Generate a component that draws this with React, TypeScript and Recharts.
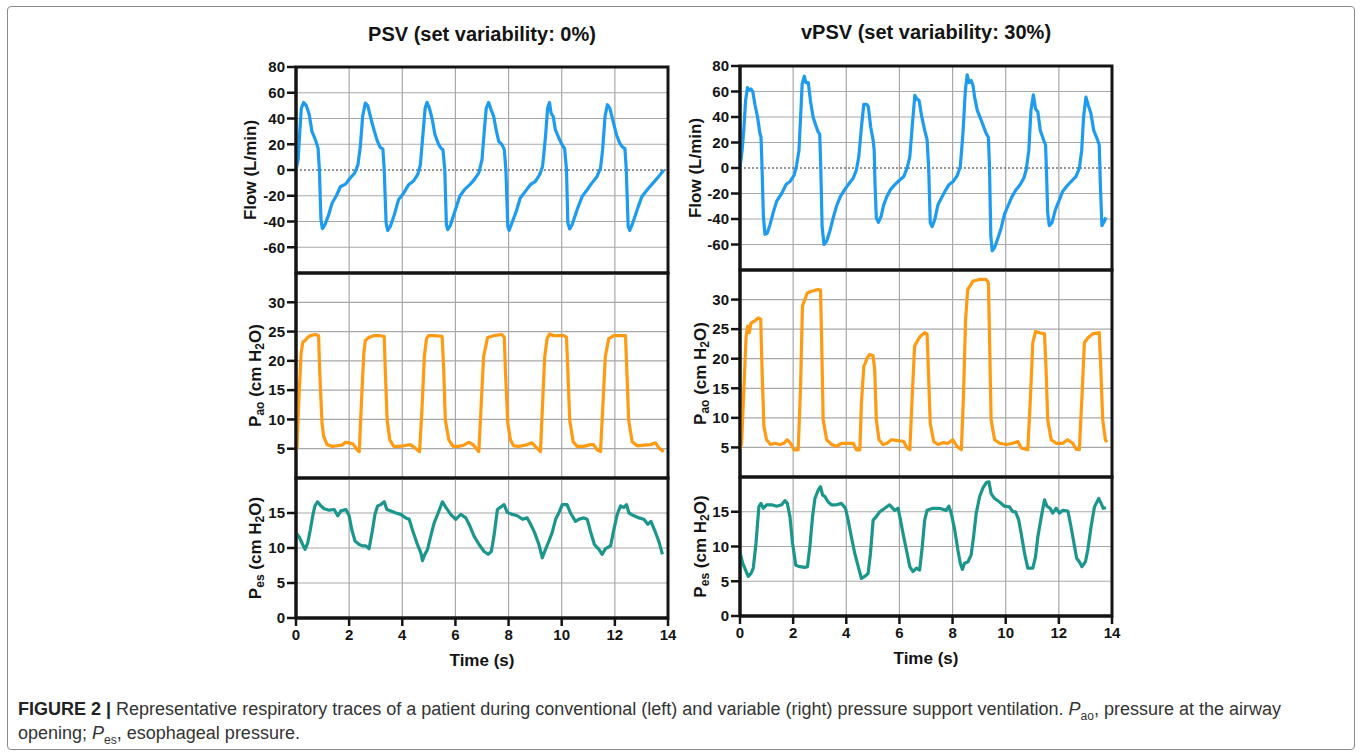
import type { ReactNode } from 'react';
import { LineChart, Line, XAxis, YAxis, CartesianGrid, ReferenceLine, ReferenceArea } from 'recharts';

type Pt = [number, number]; // [time (s), value]

const timeTicks = [0, 2, 4, 6, 8, 10, 12, 14];
const timeGrid = [2, 4, 6, 8, 10, 12];
const flowTicks = [-60, -40, -20, 0, 20, 40, 60, 80];
const flowGrid = [-60, -40, -20, 20, 40, 60];
const paoTicks = [5, 10, 15, 20, 25, 30];
const pesTicks = [0, 5, 10, 15];
const pesGrid = [5, 10, 15];

// PSV (set variability 0%)
const psvFlow: Pt[] = [
  [0, 0], [0.08, 8], [0.14, 29], [0.2, 48], [0.29, 52.5], [0.39, 50], [0.5, 43], [0.6, 30], [0.73, 23.5], [0.83, 17],
  [0.88, 0], [0.94, -38.6], [0.99, -45.5], [1.08, -43], [1.23, -34.7], [1.36, -25.6], [1.52, -20], [1.67, -13], [1.86, -11],
  [2.05, -6], [2.21, -2.3], [2.33, 4], [2.42, 18], [2.51, 42], [2.61, 52], [2.7, 50], [2.82, 40], [2.95, 30], [3.07, 22],
  [3.17, 17.6], [3.27, 16.3], [3.32, 0], [3.39, -41], [3.45, -47], [3.55, -43.8], [3.7, -34.7], [3.86, -23], [4.05, -18],
  [4.24, -11.4], [4.43, -8.3], [4.58, -3.6], [4.68, 4], [4.77, 26], [4.86, 48], [4.93, 52.5], [5.02, 48], [5.12, 40],
  [5.23, 27.4], [5.37, 19.7], [5.47, 16.6], [5.53, 15.8], [5.6, 0], [5.66, -42.5], [5.71, -46.3], [5.81, -43], [5.96, -33.4],
  [6.16, -20.5], [6.34, -15.3], [6.54, -11.4], [6.71, -7.5], [6.88, -2.3], [7.0, 8], [7.09, 31.3], [7.16, 48], [7.25, 52.5],
  [7.34, 47], [7.44, 41.7], [7.53, 31.3], [7.63, 22.3], [7.75, 19.7], [7.84, 15.8], [7.9, 0], [7.97, -43.8], [8.02, -47],
  [8.13, -41], [8.29, -32], [8.44, -21.7], [8.63, -16.6], [8.82, -11.4], [9.01, -8.8], [9.17, -3.6], [9.28, 2.8], [9.39, 26],
  [9.47, 48], [9.54, 52.5], [9.6, 44], [9.68, 41.7], [9.76, 31.3], [9.89, 24.9], [10.01, 19.7], [10.11, 16.6], [10.18, 0],
  [10.23, -41], [10.3, -45.8], [10.39, -42.5], [10.58, -30.8], [10.77, -20.5], [10.96, -15.3], [11.14, -10], [11.33, -5],
  [11.46, 1.5], [11.54, 15.8], [11.63, 41.7], [11.72, 50.7], [11.81, 48], [11.92, 39], [12.06, 27.4], [12.18, 21],
  [12.28, 17.9], [12.38, 16.6], [12.43, 0], [12.5, -43.8], [12.56, -47], [12.65, -42.5], [12.84, -30.8], [13.02, -20.5],
  [13.27, -14], [13.46, -9.6], [13.65, -5], [13.84, 0],
];

const psvPao: Pt[] = [
  [0, 4.5], [0.04, 5.4], [0.1, 12.7], [0.19, 21.2], [0.26, 23.2], [0.35, 23.5], [0.44, 24], [0.54, 24.3], [0.73, 24.5],
  [0.85, 24.3], [0.89, 18.4], [0.98, 9.4], [1.04, 7.1], [1.17, 5.7], [1.36, 5.4], [1.54, 5.5], [1.73, 5.6], [1.86, 6.1],
  [1.98, 6], [2.15, 5.8], [2.3, 4.8], [2.38, 4.5], [2.46, 12.7], [2.55, 21.2], [2.61, 23.5], [2.74, 24], [2.92, 24.3],
  [3.11, 24.3], [3.32, 24.2], [3.36, 18.4], [3.43, 9.9], [3.53, 6.5], [3.68, 5.4], [3.86, 5.4], [4.05, 5.5], [4.3, 5.7],
  [4.49, 5.1], [4.65, 4.5], [4.74, 11.6], [4.83, 20.7], [4.91, 23.8], [4.99, 24.3], [5.18, 24.3], [5.5, 24.2], [5.56, 18.4],
  [5.62, 9.9], [5.75, 6.5], [5.91, 5.4], [6.12, 5.4], [6.31, 5.6], [6.5, 6.1], [6.66, 5.7], [6.88, 4.5], [6.96, 11.6],
  [7.06, 20.7], [7.21, 24], [7.44, 24.3], [7.75, 24.5], [7.84, 24], [7.88, 18.4], [7.97, 9.4], [8.07, 6.5], [8.19, 5.5],
  [8.38, 5.4], [8.63, 5.6], [8.88, 6], [9.07, 5.1], [9.2, 4.5], [9.28, 12.7], [9.36, 20.7], [9.45, 23.8], [9.55, 24.6],
  [9.7, 24.3], [10.08, 24.3], [10.18, 24], [10.23, 18.4], [10.3, 9.9], [10.43, 6.2], [10.58, 5.4], [10.83, 5.4], [11.08, 5.7],
  [11.2, 5.7], [11.33, 4.8], [11.46, 4.5], [11.54, 11.6], [11.64, 20.7], [11.77, 23.8], [11.96, 24.3], [12.27, 24.3],
  [12.4, 24.3], [12.45, 18.4], [12.52, 9.9], [12.65, 6.2], [12.84, 5.5], [13.09, 5.6], [13.34, 5.7], [13.53, 6], [13.66, 5.1],
  [13.84, 4.5],
];

const psvPes: Pt[] = [
  [0, 12.2], [0.13, 11.5], [0.25, 10.5], [0.34, 9.8], [0.44, 10.7], [0.54, 12.6], [0.63, 14.6], [0.71, 16], [0.81, 16.6],
  [0.94, 16], [1.06, 15.6], [1.25, 15.4], [1.44, 15.5], [1.57, 14.6], [1.69, 15.3], [1.88, 15.5], [2.0, 14.6], [2.1, 12.6],
  [2.22, 11], [2.38, 10.5], [2.5, 10.3], [2.63, 10.3], [2.75, 9.9], [2.88, 12.6], [2.97, 14.8], [3.07, 16], [3.19, 16.2],
  [3.32, 16.6], [3.42, 15.5], [3.57, 15.3], [3.76, 15], [3.94, 14.8], [4.13, 14.3], [4.26, 14.1], [4.38, 12.6], [4.55, 10.7],
  [4.7, 9.3], [4.76, 8.2], [4.85, 9.1], [4.95, 9.8], [5.07, 11.7], [5.2, 13.6], [5.35, 15], [5.51, 16.6], [5.64, 15.8],
  [5.82, 14.8], [6.01, 14.1], [6.2, 14.8], [6.39, 14.3], [6.55, 13.1], [6.7, 11.7], [6.89, 10.5], [7.08, 9.5], [7.23, 9.1],
  [7.35, 9.5], [7.45, 11.7], [7.58, 15.5], [7.72, 15.9], [7.83, 16.2], [7.95, 15.1], [8.14, 14.8], [8.33, 14.6], [8.52, 14.1],
  [8.7, 14.3], [8.83, 13.4], [8.98, 12.2], [9.14, 10.5], [9.27, 8.6], [9.39, 9.8], [9.52, 11], [9.64, 12.2], [9.77, 14.1],
  [9.89, 15], [10.02, 16.2], [10.2, 16.2], [10.33, 15], [10.52, 13.8], [10.64, 14.1], [10.83, 14.3], [10.96, 14.1],
  [11.08, 12.4], [11.23, 10.5], [11.4, 9.8], [11.52, 9.1], [11.65, 9.9], [11.84, 10.3], [11.96, 12.6], [12.09, 14.8],
  [12.21, 16], [12.34, 15.8], [12.44, 16.2], [12.53, 15], [12.72, 14.6], [12.91, 14.3], [13.09, 14.1], [13.24, 13.4],
  [13.36, 13.8], [13.49, 12.6], [13.65, 11], [13.74, 9.8], [13.79, 9.1],
];

// vPSV (set variability 30%)
const vpsvFlow: Pt[] = [
  [0, 0], [0.08, 14], [0.15, 32], [0.21, 53], [0.28, 63], [0.35, 61], [0.41, 62], [0.48, 60], [0.56, 50], [0.66, 40],
  [0.75, 27], [0.79, 24.4], [0.83, 0], [0.88, -38], [0.94, -52], [1.03, -51], [1.13, -44.4], [1.25, -35], [1.38, -26],
  [1.57, -20], [1.73, -13], [1.88, -10.6], [2.04, -5.5], [2.13, 2.3], [2.22, 14], [2.28, 40], [2.34, 66], [2.42, 72],
  [2.48, 67], [2.57, 67], [2.65, 53], [2.75, 40], [2.85, 33.5], [2.94, 28.3], [3.0, 26.5], [3.04, 0], [3.09, -45.7],
  [3.16, -60], [3.26, -57.4], [3.38, -49.6], [3.51, -39], [3.63, -30], [3.78, -22.3], [3.94, -17], [4.11, -12], [4.26, -8],
  [4.38, -1.6], [4.47, 8.8], [4.57, 32], [4.66, 50], [4.76, 50], [4.83, 48], [4.92, 32], [5.01, 21.8], [5.05, 14],
  [5.08, -12], [5.13, -39], [5.21, -42.6], [5.31, -38], [5.41, -28.8], [5.53, -22.3], [5.66, -17], [5.82, -13.2],
  [6.01, -9.4], [6.16, -6.8], [6.29, 0], [6.39, 8.8], [6.49, 34.8], [6.58, 57], [6.66, 54], [6.74, 53], [6.83, 41.3],
  [6.95, 29.6], [7.04, 22.3], [7.1, 0], [7.16, -43], [7.23, -46], [7.33, -40.5], [7.45, -28.8], [7.58, -23.6], [7.71, -18.4],
  [7.86, -13.2], [8.02, -10.6], [8.17, -6.2], [8.29, 1], [8.39, 27], [8.48, 60.8], [8.55, 73], [8.62, 67], [8.7, 68.6],
  [8.77, 64.7], [8.83, 55.6], [8.93, 45.2], [9.08, 37.4], [9.24, 28.3], [9.35, 24], [9.39, 0], [9.44, -53.5], [9.49, -65],
  [9.58, -62.6], [9.71, -54.8], [9.83, -47], [9.95, -36.6], [10.08, -30], [10.24, -22.3], [10.39, -17], [10.54, -13.2],
  [10.68, -8], [10.77, -1.6], [10.87, 14], [10.95, 45.2], [11.04, 57.4], [11.12, 46.5], [11.21, 44], [11.3, 29.6],
  [11.43, 21.8], [11.5, 18], [11.53, 0], [11.58, -35.3], [11.64, -45.2], [11.74, -43], [11.87, -32.7], [12.02, -25],
  [12.14, -18.4], [12.29, -14.5], [12.46, -10.6], [12.64, -6.8], [12.77, -0.3], [12.86, 14], [12.93, 40], [13.02, 55.6],
  [13.11, 49], [13.21, 42.6], [13.31, 29.6], [13.46, 21.8], [13.52, 18], [13.56, -12], [13.62, -45.2], [13.71, -42],
  [13.77, -38.7],
];

const vpsvPao: Pt[] = [
  [0, 4.6], [0.06, 5.7], [0.15, 15.3], [0.23, 23.8], [0.29, 25.5], [0.35, 24.4], [0.41, 26], [0.53, 26.3], [0.69, 26.9],
  [0.78, 26.7], [0.83, 18.1], [0.9, 8.6], [1.0, 6.3], [1.15, 5.5], [1.31, 5.7], [1.5, 5.5], [1.65, 5.7], [1.78, 6.3],
  [1.9, 5.7], [2.03, 4.6], [2.19, 4.6], [2.28, 15.3], [2.35, 28.9], [2.44, 30], [2.53, 31.1], [2.69, 31.4], [2.94, 31.7],
  [3.03, 31.6], [3.07, 23.8], [3.13, 9.7], [3.26, 6.3], [3.44, 5.5], [3.63, 5.2], [3.82, 5.7], [4.07, 5.7], [4.26, 5.7],
  [4.38, 4.6], [4.51, 4.6], [4.57, 12.5], [4.66, 18.7], [4.72, 19.3], [4.78, 20.1], [4.88, 20.7], [5.01, 20.5], [5.07, 18.1],
  [5.13, 9.7], [5.23, 6.3], [5.38, 5.5], [5.53, 5.7], [5.7, 6.3], [5.88, 6.2], [6.16, 6], [6.29, 4.9], [6.39, 4.6],
  [6.47, 12.5], [6.57, 22.1], [6.66, 22.9], [6.79, 23.8], [6.95, 24.4], [7.04, 24.2], [7.09, 18.1], [7.16, 9.1], [7.29, 6],
  [7.45, 5.5], [7.64, 5.8], [7.83, 5.7], [8.01, 6.3], [8.16, 5.2], [8.33, 4.6], [8.41, 13.6], [8.49, 26.6], [8.57, 31.7],
  [8.66, 32.3], [8.76, 33.1], [9.01, 33.4], [9.26, 33.4], [9.35, 32.8], [9.39, 23.8], [9.45, 9.7], [9.58, 6.3], [9.77, 5.7],
  [10.02, 5.5], [10.27, 5.7], [10.46, 6], [10.58, 4.9], [10.83, 4.6], [10.92, 12.5], [11.02, 22.7], [11.12, 24.6],
  [11.27, 24.4], [11.46, 24.2], [11.52, 18.1], [11.58, 9.7], [11.71, 6.3], [11.9, 5.7], [12.15, 5.7], [12.33, 6.3],
  [12.52, 5.7], [12.65, 4.7], [12.77, 4.6], [12.87, 13.6], [12.96, 22.7], [13.09, 23.5], [13.27, 24.2], [13.52, 24.4],
  [13.58, 18.1], [13.65, 9.7], [13.75, 6.3], [13.81, 5.9],
];

const vpsvPes: Pt[] = [
  [0, 9.2], [0.1, 7.6], [0.21, 6.6], [0.31, 5.7], [0.41, 6.1], [0.5, 6.9], [0.6, 10.4], [0.71, 15.7], [0.79, 16.2],
  [0.88, 15.5], [1.0, 16], [1.19, 16], [1.38, 15.8], [1.57, 16], [1.69, 16.6], [1.78, 16.2], [1.88, 14.3], [1.98, 10.4],
  [2.1, 7.3], [2.25, 7.1], [2.44, 7], [2.54, 7.1], [2.63, 10], [2.73, 14.3], [2.82, 16.9], [2.94, 18.1], [3.03, 18.6],
  [3.11, 17.4], [3.19, 17.2], [3.32, 16.4], [3.44, 16], [3.63, 16], [3.82, 16.2], [3.97, 15.5], [4.07, 13.8], [4.19, 11.4],
  [4.32, 9], [4.45, 7.1], [4.57, 5.4], [4.69, 5.7], [4.82, 6.1], [4.91, 9], [5.01, 13.8], [5.13, 14.3], [5.26, 15],
  [5.45, 15.5], [5.63, 16], [5.82, 15.2], [5.95, 15.5], [6.04, 13.8], [6.16, 11.4], [6.29, 9], [6.39, 7.1], [6.51, 6.4],
  [6.64, 6.9], [6.76, 6.6], [6.86, 10], [6.95, 13.8], [7.04, 15.2], [7.26, 15.5], [7.51, 15.5], [7.76, 15.2], [7.86, 15.8],
  [7.95, 14.8], [8.08, 12.4], [8.2, 9.5], [8.29, 7.6], [8.37, 6.7], [8.45, 7.6], [8.58, 7.8], [8.7, 8.8], [8.79, 11.4],
  [8.89, 14.8], [9.02, 17.2], [9.14, 18.4], [9.27, 19.2], [9.37, 19.3], [9.45, 17.6], [9.58, 16.9], [9.77, 16.4],
  [9.95, 15.8], [10.14, 15.7], [10.27, 15], [10.37, 15], [10.49, 13.8], [10.58, 11.9], [10.71, 9], [10.83, 6.9], [11.02, 6.9],
  [11.12, 8.5], [11.21, 11.4], [11.34, 14.3], [11.46, 16.7], [11.55, 15.8], [11.67, 15.5], [11.77, 14.8], [11.9, 15.5],
  [12.02, 14.8], [12.15, 15.2], [12.34, 15.1], [12.46, 12.8], [12.59, 10], [12.67, 8.3], [12.77, 7.8], [12.87, 7.1],
  [13.0, 7.8], [13.09, 9.5], [13.21, 12.8], [13.34, 15.7], [13.5, 16.9], [13.59, 16.2], [13.67, 15.5], [13.77, 15.6],
];

const FONT = '"Liberation Sans", Arial, Helvetica, sans-serif';
const INK = '#141414';
const GRID = '#a8a8a8';
const BLUE = '#1c9bf0';
const ORANGE = '#ff9a12';
const TEAL = '#1a968c';

const tickText = { fill: INK, fontSize: 15, fontWeight: 700, fontFamily: FONT };
const tickLine = { stroke: INK, strokeWidth: 2.5 };
const axisLine = { stroke: INK, strokeWidth: 3 };
const noTick = () => <g />;

// rotated y label, placed a fixed distance left of the plot
const yLabel = (children: ReactNode, offset: number) => (props: any) => {
  const vb = props.viewBox;
  const cx = vb.x + vb.width - offset;
  const cy = vb.y + vb.height / 2;
  return (
    <text x={cx} y={cy} transform={`rotate(-90 ${cx} ${cy})`} textAnchor="middle" dominantBaseline="central"
      fontSize={17} fontWeight={700} fill={INK} fontFamily={FONT}>
      {children}
    </text>
  );
};

const timeLabel = (props: any) => {
  const vb = props.viewBox;
  return (
    <text x={vb.x + vb.width / 2} y={vb.y + 48} textAnchor="middle" fontSize={17} fontWeight={700} fill={INK} fontFamily={FONT}>
      Time (s)
    </text>
  );
};

const paoText = (
  <>
    <tspan>P</tspan><tspan fontSize={12} dy={5}>ao</tspan><tspan dy={-5}> (cm H</tspan>
    <tspan fontSize={12} dy={5}>2</tspan><tspan dy={-5}>O)</tspan>
  </>
);
const pesText = (
  <>
    <tspan>P</tspan><tspan fontSize={12} dy={5}>es</tspan><tspan dy={-5}> (cm H</tspan>
    <tspan fontSize={12} dy={5}>2</tspan><tspan dy={-5}>O)</tspan>
  </>
);

interface PanelProps {
  data: Pt[];
  color: string;
  left: number;
  top: number;
  width: number;
  height: number;
  domain: [number, number];
  ticks: number[];
  grid: number[];
  label: ReactNode;
  labelOffset: number;
  bottom?: boolean;
  zeroLine?: boolean;
}

function Panel({ data, color, left, top, width, height, domain, ticks, grid, label, labelOffset, bottom, zeroLine }: PanelProps) {
  const rows = data.map(([t, v]) => ({ t, v }));
  const pad = 10;
  const yw = 60;
  const xh = bottom ? 52 : 0;
  return (
    <div style={{ position: 'absolute', left: left - yw, top: top - pad }}>
      <LineChart width={yw + width + pad} height={pad + height + xh + pad} data={rows}
        margin={{ top: pad, right: pad, bottom: pad, left: 0 }}>
        <CartesianGrid stroke={GRID} strokeWidth={1.2} horizontalValues={grid} verticalValues={timeGrid} />
        <XAxis dataKey="t" type="number" domain={[0, 14]} ticks={timeTicks} interval={0} allowDataOverflow
          height={xh} tick={bottom ? tickText : noTick} tickLine={bottom ? tickLine : false} tickSize={8} tickMargin={3}
          axisLine={axisLine} label={bottom ? { content: timeLabel } : undefined} />
        <YAxis type="number" domain={domain} ticks={ticks} interval={0} allowDataOverflow width={yw}
          tick={tickText} tickLine={tickLine} tickSize={9} tickMargin={2} axisLine={axisLine}
          label={{ content: yLabel(label, labelOffset) }} />
        {zeroLine && <ReferenceLine y={0} stroke="#707070" strokeWidth={1.5} strokeDasharray="2 2" />}
        <ReferenceArea x1={0} x2={14} y1={domain[0]} y2={domain[1]} fill="none" stroke={INK} strokeWidth={3} />
        <Line type="linear" dataKey="v" stroke={color} strokeWidth={3.2} dot={false} strokeLinejoin="round"
          isAnimationActive={false} />
      </LineChart>
    </div>
  );
}

const titleStyle = {
  position: 'absolute' as const,
  width: 400,
  textAlign: 'center' as const,
  fontSize: 20,
  fontWeight: 700,
  lineHeight: '24px',
  color: INK,
};

const subStyle = { fontSize: 12, lineHeight: 0 };

export default function App() {
  const L = 296;
  const R = 740;
  const W = 372;
  return (
    <div style={{ position: 'absolute', left: 0, top: 0, width: 1362, height: 756, background: '#fff', fontFamily: FONT }}>
      <div style={{ position: 'absolute', left: 7, top: 6, width: 1348, height: 744, border: '1px solid #8a8a8a',
        borderRadius: 4, boxSizing: 'border-box' }} />

      <div style={{ ...titleStyle, left: L + W / 2 - 200, top: 22 }}>PSV (set variability: 0%)</div>
      <div style={{ ...titleStyle, left: R + W / 2 - 200, top: 20 }}>vPSV (set variability: 30%)</div>

      <Panel data={psvFlow} color={BLUE} left={L} top={67} width={W} height={206} domain={[-80, 80]} ticks={flowTicks}
        grid={flowGrid} label="Flow (L/min)" labelOffset={46} zeroLine />
      <Panel data={psvPao} color={ORANGE} left={L} top={273} width={W} height={205} domain={[0, 35]} ticks={paoTicks}
        grid={paoTicks} label={paoText} labelOffset={41} />
      <Panel data={psvPes} color={TEAL} left={L} top={478} width={W} height={140} domain={[0, 20]} ticks={pesTicks}
        grid={pesGrid} label={pesText} labelOffset={41} bottom />

      <Panel data={vpsvFlow} color={BLUE} left={R} top={66} width={W} height={204} domain={[-80, 80]} ticks={flowTicks}
        grid={flowGrid} label="Flow (L/min)" labelOffset={45} zeroLine />
      <Panel data={vpsvPao} color={ORANGE} left={R} top={270} width={W} height={207} domain={[0, 35]} ticks={paoTicks}
        grid={paoTicks} label={paoText} labelOffset={40} />
      <Panel data={vpsvPes} color={TEAL} left={R} top={477} width={W} height={139} domain={[0, 20]} ticks={pesTicks}
        grid={pesGrid} label={pesText} labelOffset={40} bottom />

      <div style={{ position: 'absolute', left: 18, top: 697, fontSize: 18, lineHeight: '24px', color: '#333',
        whiteSpace: 'nowrap', fontFamily: FONT }}>
        <b style={{ color: '#222' }}>FIGURE 2 |</b> Representative respiratory traces of a patient during conventional (left) and
        variable (right) pressure support ventilation. <i>P</i><sub style={subStyle}>ao</sub>, pressure
        at the airway<br />opening; <i>P</i><sub style={subStyle}>es</sub>, esophageal pressure.
      </div>
    </div>
  );
}
